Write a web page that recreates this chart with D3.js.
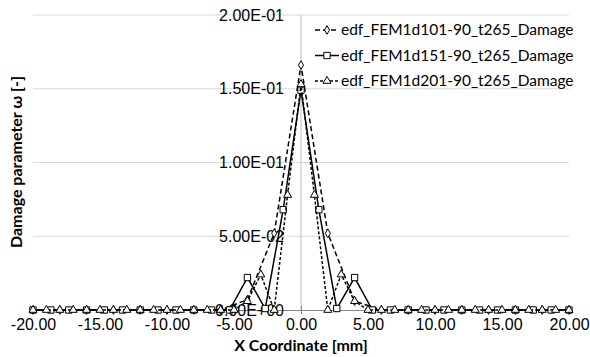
<!DOCTYPE html>
<html>
<head>
<meta charset="utf-8">
<script src="https://cdn.jsdelivr.net/npm/d3@7"></script>
<style>
  body { margin: 0; background: #fff; }
  svg { font-family: Lato, "Open Sans", sans-serif; }
</style>
</head>
<body>
<div id="chart"></div>
<script>
'use strict';

const seriesNames = ['edf_FEM1d101-90_t265_Damage', 'edf_FEM1d151-90_t265_Damage', 'edf_FEM1d201-90_t265_Damage'];

const s101X = [-20, -18, -16, -14, -12, -10, -8, -6, -4, -2, 0, 2, 4, 6, 8, 10, 12, 14, 16, 18, 20];
const s101Y = [0, 0, 0, 0, 0, 0, 0, 0, 0.007, 0.052, 0.166, 0.052, 0.006, 0, 0, 0, 0, 0, 0, 0, 0];

const s151X = [-20, -18.67, -17.33, -16, -14.67, -13.33, -12, -10.67, -9.33, -8, -6.67, -5.33, -4, -2.67, -1.33, 0,
    1.33, 2.67, 4, 5.33, 6.67, 8, 9.33, 10.67, 12, 13.33, 14.67, 16, 17.33, 18.67, 20];
const s151Y = [0, 0, 0, 0, 0, 0, 0, 0, 0, 0, 0, 0, 0.022, 0.001, 0.068, 0.149,
    0.068, 0.001, 0.022, 0, 0, 0, 0, 0, 0, 0, 0, 0, 0, 0, 0];

const s201X = [-20, -19, -18, -17, -16, -15, -14, -13, -12, -11, -10, -9, -8, -7, -6, -5, -4, -3, -2, -1, 0,
    1, 2, 3, 4, 5, 6, 7, 8, 9, 10, 11, 12, 13, 14, 15, 16, 17, 18, 19, 20];
const s201Y = [0, 0, 0, 0, 0, 0, 0, 0, 0, 0, 0, 0, 0, 0, 0, 0, 0.006, 0.024, 0, 0.078, 0.153,
    0.078, 0, 0.024, 0.006, 0, 0, 0, 0, 0, 0, 0, 0, 0, 0, 0, 0, 0, 0, 0, 0];

const xTicks = [-20, -15, -10, -5, 0, 5, 10, 15, 20];
const xTickLabels = ['-20.00', '-15.00', '-10.00', '-5.00', '0.00', '5.00', '10.00', '15.00', '20.00'];
const yTicks = [0, 0.05, 0.1, 0.15, 0.2];
const yTickLabels = ['0.00E+00', '5.00E-02', '1.00E-01', '1.50E-01', '2.00E-01'];

const width = 590, height = 357;
const margin = { top: 15, right: 21, bottom: 47, left: 33 };

const svg = d3.select('#chart').append('svg')
    .attr('width', width)
    .attr('height', height);

const x = d3.scaleLinear().domain([-20, 20]).range([margin.left, width - margin.right]);
const y = d3.scaleLinear().domain([0, 0.2]).range([height - margin.bottom, margin.top]);

// gridlines
svg.append('g')
    .selectAll('line')
    .data(yTicks.slice(1))
    .enter().append('line')
    .attr('x1', x(-20)).attr('x2', x(20))
    .attr('y1', d => y(d)).attr('y2', d => y(d))
    .attr('stroke', '#d9d9d9')
    .attr('stroke-width', 1);

// y axis sits at x = 0
svg.append('line')
    .attr('x1', x(0)).attr('x2', x(0))
    .attr('y1', y(0.2)).attr('y2', y(0))
    .attr('stroke', '#bfbfbf');

// x axis at y = 0
const xAxis = d3.axisBottom(x)
    .tickValues(xTicks)
    .tickFormat((d, i) => xTickLabels[i])
    .tickSize(0)
    .tickPadding(9);

const gx = svg.append('g')
    .attr('transform', `translate(0,${y(0)})`)
    .call(xAxis);
gx.select('.domain').attr('stroke', '#868686');
gx.selectAll('text').attr('font-size', '16px').attr('fill', '#000');
gx.selectAll('.tick').append('line')
    .attr('y1', -4).attr('y2', 4)
    .attr('stroke', '#868686');

const yAxis = d3.axisLeft(y)
    .tickValues(yTicks)
    .tickFormat((d, i) => yTickLabels[i])
    .tickSize(0)
    .tickPadding(17);

const gy = svg.append('g')
    .attr('transform', `translate(${x(0)},0)`)
    .call(yAxis);
gy.select('.domain').remove();
gy.selectAll('text').attr('font-size', '16px').attr('fill', '#000');

// series
const series = [
    { name: seriesNames[0], xs: s101X, ys: s101Y, dash: '5,3', marker: 'diamond' },
    { name: seriesNames[1], xs: s151X, ys: s151Y, dash: null, marker: 'square' },
    { name: seriesNames[2], xs: s201X, ys: s201Y, dash: '3,2', marker: 'triangle' }
];

const symbolOf = {
    diamond: d3.symbol().type(d3.symbolDiamond).size(22),
    square: d3.symbol().type(d3.symbolSquare).size(40),
    triangle: d3.symbol().type(d3.symbolTriangle).size(28)
};

const line = d3.line()
    .x(d => x(d[0]))
    .y(d => y(d[1]));

series.forEach(s => {
    const pts = s.xs.map((v, i) => [v, s.ys[i]]);
    const g = svg.append('g');
    g.append('path')
        .datum(pts)
        .attr('d', line)
        .attr('fill', 'none')
        .attr('stroke', '#000')
        .attr('stroke-width', 1.5)
        .attr('stroke-dasharray', s.dash);
    g.selectAll('path.pt')
        .data(pts)
        .enter().append('path')
        .attr('class', 'pt')
        .attr('d', symbolOf[s.marker])
        .attr('transform', d => `translate(${x(d[0])},${y(d[1])})`)
        .attr('fill', '#fff')
        .attr('stroke', '#000')
        .attr('stroke-width', 1);
});

// legend
const legend = svg.append('g').attr('transform', 'translate(315,30)');
series.forEach((s, i) => {
    const row = legend.append('g').attr('transform', `translate(0,${i * 25.5})`);
    row.append('line')
        .attr('x1', 0).attr('x2', 24)
        .attr('stroke', '#000')
        .attr('stroke-width', 1.5)
        .attr('stroke-dasharray', s.dash);
    row.append('path')
        .attr('d', symbolOf[s.marker])
        .attr('transform', 'translate(12,0)')
        .attr('fill', '#fff')
        .attr('stroke', '#000');
    row.append('text')
        .attr('x', 26)
        .attr('dy', '0.35em')
        .attr('font-size', '15.5px')
        .text(s.name);
});

// axis titles
svg.append('text')
    .attr('x', x(0))
    .attr('y', 351)
    .attr('text-anchor', 'middle')
    .attr('font-size', '16px')
    .attr('font-weight', 'bold')
    .text('X Coordinate [mm]');

svg.append('text')
    .attr('transform', 'translate(22,162) rotate(-90)')
    .attr('text-anchor', 'middle')
    .attr('font-size', '16px')
    .attr('font-weight', 'bold')
    .text('Damage parameter ω [-]');
</script>
</body>
</html>
